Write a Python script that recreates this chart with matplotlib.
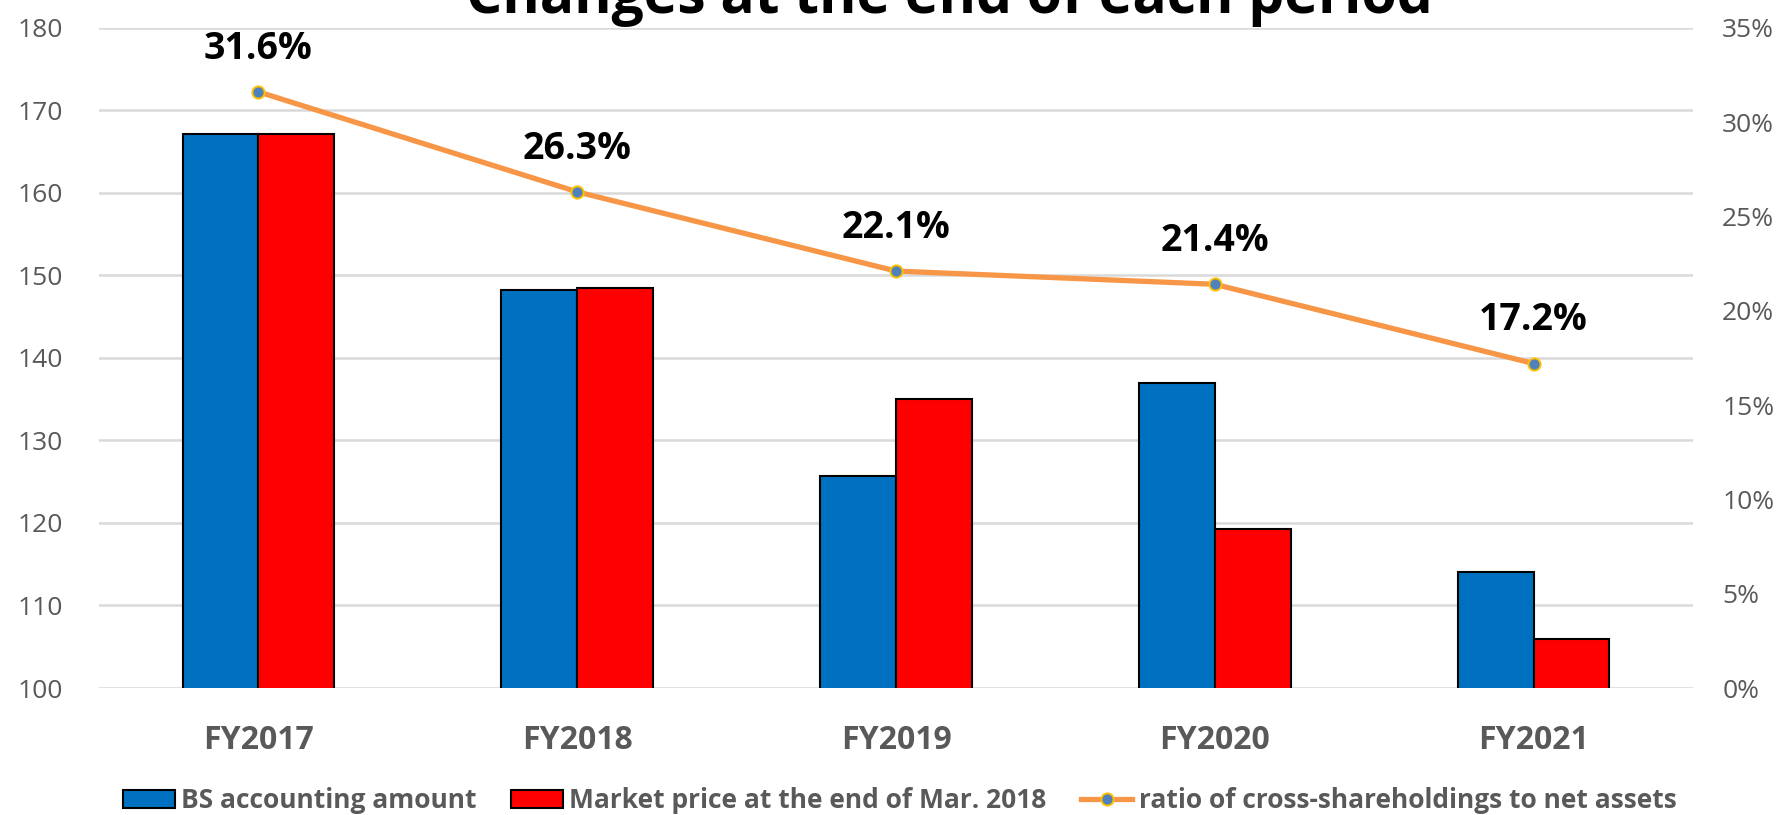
import matplotlib
matplotlib.use("Agg")
import matplotlib.pyplot as plt
from matplotlib.patches import Patch
from matplotlib.lines import Line2D
from matplotlib.ticker import FuncFormatter, MultipleLocator
import numpy as np

categories = ["FY2017", "FY2018", "FY2019", "FY2020", "FY2021"]
bs_amount = [167.1, 148.2, 125.7, 137.0, 114.0]
market_price = [167.1, 148.5, 135.0, 119.3, 105.9]
ratio = [31.6, 26.3, 22.1, 21.4, 17.2]
ratio_labels = ["31.6%", "26.3%", "22.1%", "21.4%", "17.2%"]

title = "Changes at the end of each period"
legend_labels = ["BS accounting amount", "Market price at the end of Mar. 2018",
                 "ratio of cross-shareholdings to net assets"]

plt.rcParams['font.family'] = ['Open Sans', 'DejaVu Sans']

BLUE = "#0070C0"
RED = "#FF0000"
ORANGE = "#F79646"
MFACE = "#4F81BD"
MEDGE = "#FFC000"
GRAY = "#595959"
GRID = "#D9D9D9"

fig = plt.figure(figsize=(17.82, 8.15), dpi=100)
ax = fig.add_axes([99/1782, 1-688/815, (1693-99)/1782, (688-27.7)/815])

x = np.arange(len(categories))
w = 0.238
ax.bar(x - w/2, bs_amount, width=w, color=BLUE, edgecolor="black", linewidth=1.5, zorder=3)
ax.bar(x + w/2, market_price, width=w, color=RED, edgecolor="black", linewidth=1.5, zorder=3)

ax.set_xlim(-0.5, len(categories) - 0.5)
ax.set_ylim(100, 180)
ax.yaxis.set_major_locator(MultipleLocator(10))
ax.grid(axis='y', color=GRID, linewidth=1.8, zorder=0)
ax.set_axisbelow(True)
for s in ax.spines.values():
    s.set_visible(False)
ax.set_xticks(x)
ax.set_xticklabels(categories, fontsize=23, fontweight='bold', color=GRAY)
ax.tick_params(axis='x', length=0, pad=26)
ax.tick_params(axis='y', length=0, pad=26, labelsize=19, labelcolor=GRAY)

ax2 = ax.twinx()
ax2.set_ylim(0, 35)
ax2.yaxis.set_major_locator(MultipleLocator(5))
ax2.yaxis.set_major_formatter(FuncFormatter(lambda v, p: f"{v:.0f}%"))
for s in ax2.spines.values():
    s.set_visible(False)
ax2.tick_params(axis='y', length=0, pad=21, labelsize=19, labelcolor=GRAY)
ax2.plot(x, ratio, color=ORANGE, linewidth=3.8, marker='o', markersize=8.8,
         markerfacecolor=MFACE, markeredgecolor=MEDGE, markeredgewidth=1.4, zorder=5)
for xi, yi, lab in zip(x, ratio, ratio_labels):
    ax2.annotate(lab, (xi, yi), xytext=(0, 31), textcoords='offset points',
                 ha='center', va='center', fontsize=27, fontweight='bold', color='black')

fig.text(949/1782, 1-13/815, title, ha='center', va='baseline',
         fontsize=41, fontweight='bold', color='black')

handles = [
    Patch(facecolor=BLUE, edgecolor='black', linewidth=1.5),
    Patch(facecolor=RED, edgecolor='black', linewidth=1.5),
    Line2D([0], [0], color=ORANGE, linewidth=3.8, marker='o', markersize=8.8,
           markerfacecolor=MFACE, markeredgecolor=MEDGE, markeredgewidth=1.4),
]
leg = fig.legend(handles, legend_labels, loc='center', bbox_to_anchor=(900/1782, 1-801/815),
                 ncol=3, frameon=False, handlelength=1.95, handleheight=0.65,
                 handletextpad=0.25, columnspacing=1.3, borderaxespad=0, borderpad=0,
                 prop={'size': 19, 'weight': 'bold'})
for t in leg.get_texts():
    t.set_color(GRAY)

fig.savefig("out.png", dpi=100)
